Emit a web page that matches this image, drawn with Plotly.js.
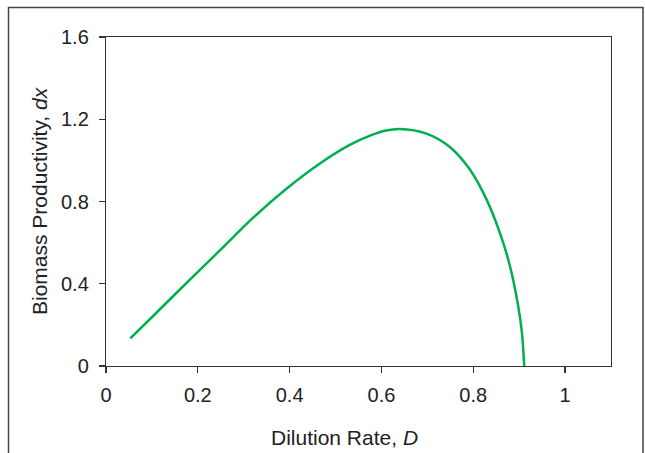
<!DOCTYPE html>
<html>
<head>
<meta charset="utf-8">
<script src="https://cdn.plot.ly/plotly-3.0.1.min.js"></script>
<style>html,body{margin:0;padding:0;background:#fff}#chart{width:645px;height:453px}</style>
</head>
<body>
<div id="chart"></div>
<script>
// Dilution rate D and biomass productivity Dx
const dilutionRate = [0.053, 0.102, 0.175, 0.248, 0.32, 0.393, 0.466, 0.531, 0.575, 0.61, 0.64, 0.698, 0.749, 0.793, 0.829, 0.858, 0.88, 0.898, 0.906, 0.911];
const productivity = [0.134, 0.242, 0.403, 0.562, 0.72, 0.862, 0.985, 1.075, 1.12, 1.145, 1.153, 1.13, 1.065, 0.954, 0.809, 0.647, 0.485, 0.29, 0.161, 0];
const xTicks = [0, 0.2, 0.4, 0.6, 0.8, 1];
const xTickLabels = ['0', '0.2', '0.4', '0.6', '0.8', '1'];
const yTicks = [0, 0.4, 0.8, 1.2, 1.6];
const yTickLabels = ['0', '0.4', '0.8', '1.2', '1.6'];

const FONT = 'Arial, "Liberation Sans", sans-serif';
const trace = {
  x: dilutionRate, y: productivity, type: 'scatter', mode: 'lines',
  line: {color: '#00b050', width: 2.5, shape: 'spline', smoothing: 0.9},
  hoverinfo: 'skip'
};
const layout = {
  width: 645, height: 453,
  margin: {l: 106, r: 34, t: 37, b: 87},
  paper_bgcolor: '#fff', plot_bgcolor: '#fff',
  showlegend: false,
  font: {family: FONT, size: 20, color: '#222'},
  xaxis: {
    range: [0, 1.1], tickvals: xTicks, ticktext: xTickLabels,
    showgrid: false, zeroline: false, showline: true, mirror: true,
    linecolor: '#333', linewidth: 1.2, ticks: 'outside', ticklen: 6, tickcolor: '#333', tickwidth: 1.2,
    ticklabelstandoff: 5,
    tickfont: {family: FONT, size: 20, color: '#222'}
  },
  yaxis: {
    range: [0, 1.6], tickvals: yTicks, ticktext: yTickLabels,
    showgrid: false, zeroline: false, showline: true, mirror: true,
    linecolor: '#333', linewidth: 1.2, ticks: 'outside', ticklen: 6, tickcolor: '#333', tickwidth: 1.2,
    ticklabelstandoff: 6,
    tickfont: {family: FONT, size: 20, color: '#222'}
  },
  annotations: [
    {text: 'Dilution Rate, <i>D</i>', xref: 'paper', yref: 'paper', x: (344.5 - 106) / 505, y: (366 - 437) / 329,
     xanchor: 'center', yanchor: 'middle', showarrow: false, font: {family: FONT, size: 21, color: '#222'}},
    {text: 'Biomass Productivity, <i>dx</i>', xref: 'paper', yref: 'paper', x: (39 - 106) / 505, y: (366 - 201) / 329,
     xanchor: 'center', yanchor: 'middle', textangle: -90, showarrow: false, font: {family: FONT, size: 21, color: '#222'}}
  ],
  shapes: [
    {type: 'rect', xref: 'paper', yref: 'paper', x0: (8.5 - 106) / 505, x1: (643 - 106) / 505,
     y0: (366 - 470) / 329, y1: (366 - 7.5) / 329, line: {color: '#444', width: 1.5}, layer: 'below'}
  ]
};
Plotly.newPlot('chart', [trace], layout, {staticPlot: true, displayModeBar: false});
</script>
</body>
</html>
